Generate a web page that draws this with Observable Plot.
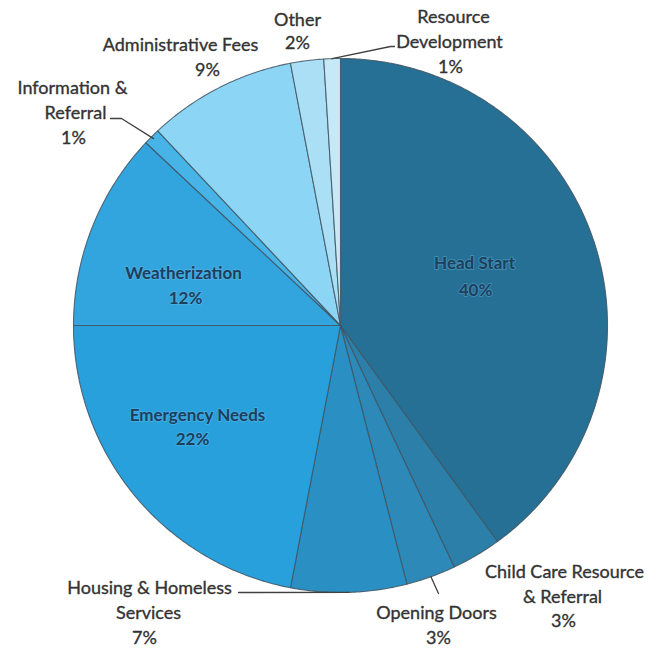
<!DOCTYPE html>
<html><head><meta charset="utf-8">
<script src="https://cdn.jsdelivr.net/npm/d3@7"></script>
<script src="https://cdn.jsdelivr.net/npm/@observablehq/plot@0.6"></script>
<style>body{margin:0;background:#fff} #chart svg{display:block}</style>
</head><body><div id="chart"></div>
<script>
// ---- data ----
const categories = ["Head Start","Child Care Resource & Referral","Opening Doors","Housing & Homeless Services","Emergency Needs","Weatherization","Information & Referral","Administrative Fees","Other","Resource Development"];
const values = [40,3,3,7,22,12,1,9,2,1];
const colors = ["#267096","#2b7fa8","#2c89b8","#2a8fc2","#28a0dc","#33a5de","#47b4e7","#8dd5f5","#abdff5","#c6e9f7"];
const labelBreaks = [["Head Start"],["Child Care Resource","& Referral"],["Opening Doors"],["Housing & Homeless","Services"],["Emergency Needs"],["Weatherization"],["Information &","Referral"],["Administrative Fees"],["Other"],["Resource","Development"]];

// ---- layout ----
const W = 666, H = 649, CX = 340, CY = 325, R = 267;
const inside = [true,false,false,false,true,true,false,false,false,false];
const linePos = [
  [[474,263],[475,290]],
  [[564,572],[562,597],[563,621]],
  [[436,613],[438,638]],
  [[149,588],[148,613],[144,638]],
  [[197,415],[192,439]],
  [[183,273],[185,298]],
  [[72,88],[75,113],[73,138]],
  [[180,45],[207,70]],
  [[297,20],[297,43]],
  [[453,17],[449,42],[450,67]]
];
const leaders = [
  {i:9, pts:[[394,46],[390,46]], rf:1.0},
  {i:6, pts:[[110,118],[121,118]], rf:0.99},
  {i:3, pts:[[238,592]], rf:1.0},
  {i:2, pts:[[438,593]], rf:1.0}
];

// ---- build ----
const data = categories.map((name, i) => ({name, value: values[i]}));
const arcs = d3.pie().sort(null).value(d => d.value)(data);
const slicePts = [];
arcs.forEach(a => {
  const name = a.data.name;
  slicePts.push({name, x: CX, y: CY});
  const n = Math.max(2, Math.ceil((a.endAngle - a.startAngle) / (Math.PI / 360)));
  for (let k = 0; k <= n; k++) {
    const t = a.startAngle + (a.endAngle - a.startAngle) * k / n;
    slicePts.push({name, x: CX + R * Math.sin(t), y: CY - R * Math.cos(t)});
  }
  slicePts.push({name, x: CX, y: CY});
});

const textRows = [];
categories.forEach((c, i) => {
  const lines = [...labelBreaks[i], values[i] + "%"];
  lines.forEach((t, j) => textRows.push({text: t, x: linePos[i][j][0], y: linePos[i][j][1], inside: inside[i]}));
});

const leaderPts = [];
leaders.forEach((l, k) => {
  l.pts.forEach(p => leaderPts.push({k, x: p[0], y: p[1]}));
  const a = arcs[l.i];
  const m = (a.startAngle + a.endAngle) / 2;
  leaderPts.push({k, x: CX + R * l.rf * Math.sin(m), y: CY - R * l.rf * Math.cos(m)});
});

const chart = Plot.plot({
  width: W, height: H, margin: 0,
  x: {domain: [0, W], range: [0, W], axis: null},
  y: {domain: [0, H], range: [0, H], axis: null},
  color: {domain: categories, range: colors},
  style: {fontFamily: "Lato, sans-serif", background: "#fff"},
  marks: [
    Plot.line(slicePts, {x: "x", y: "y", z: "name", fill: "name", stroke: "#3f5563", strokeWidth: 1.1, strokeOpacity: 0.85, curve: "linear"}),
    Plot.line(leaderPts, {x: "x", y: "y", z: "k", stroke: "#404040", strokeWidth: 1.3}),
    Plot.text(textRows.filter(d => !d.inside), {x: "x", y: "y", text: "text", fontSize: 18, fill: "#333", stroke: "#333", strokeWidth: 0.35, textAnchor: "middle", lineAnchor: "middle"}),
    Plot.text(textRows.filter(d => d.inside), {x: "x", y: "y", text: "text", fontSize: 17, fontWeight: "bold", fill: "#1d3f5e", stroke: "#6fc0ea", strokeOpacity: 0.35, strokeWidth: 2, textAnchor: "middle", lineAnchor: "middle"})
  ]
});
document.getElementById("chart").append(chart);
</script></body></html>
